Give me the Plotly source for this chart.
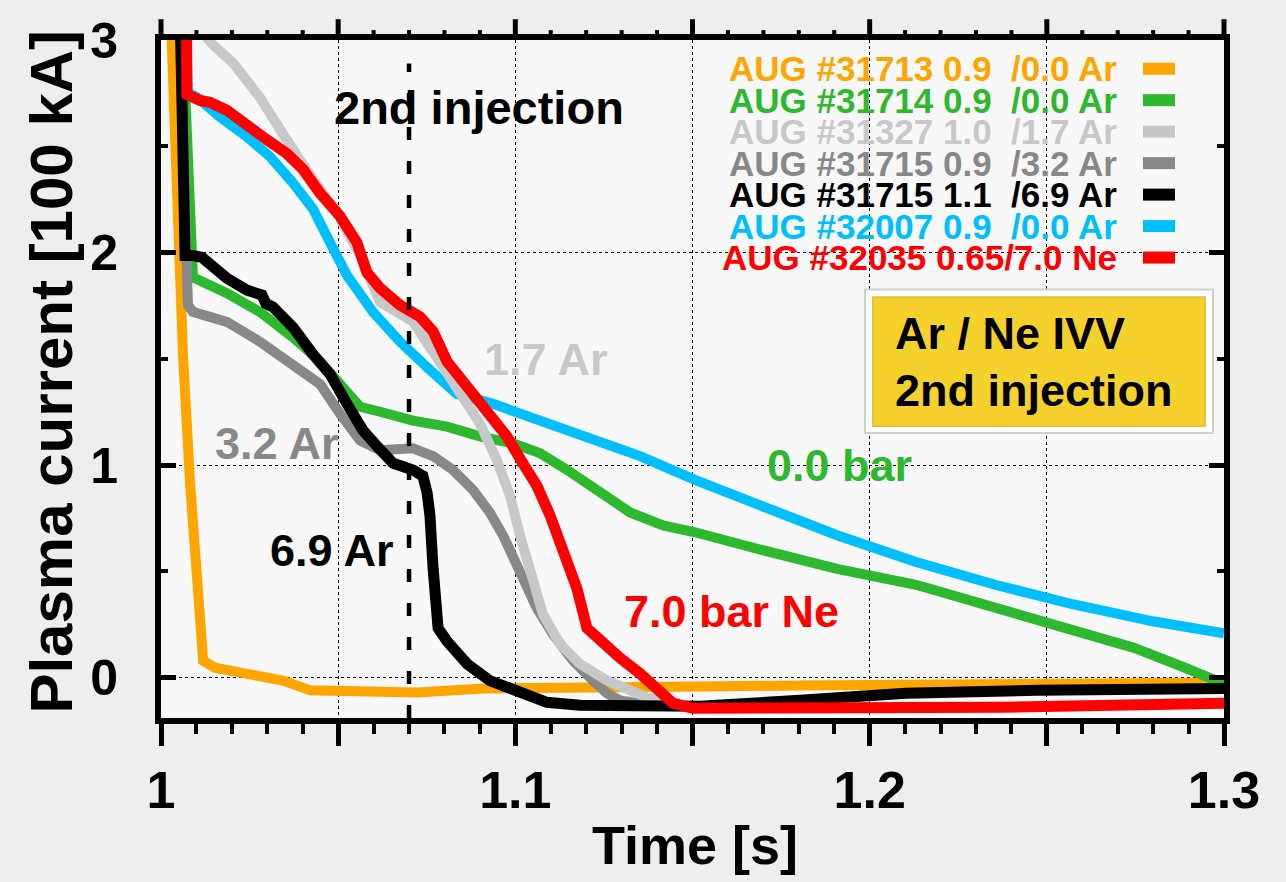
import plotly.graph_objects as go

# Discharge time traces: time [s] and plasma current [100 kA]
t_31713 = [1.0029, 1.0045, 1.0062, 1.0082, 1.0102, 1.0119, 1.0152, 1.0251, 1.0344, 1.0421,
           1.0533, 1.0723, 1.0909, 1.1098, 1.1287, 1.1521, 1.1803, 1.2086, 1.2368, 1.2650, 1.3000]
i_31713 = [3.05, 2.219, 1.521, 0.916, 0.358, 0.079, 0.047, 0.019, -0.014, -0.060,
           -0.060, -0.070, -0.051, -0.051, -0.051, -0.042, -0.037, -0.037, -0.033, -0.028, -0.023]

t_31714 = [1.0061, 1.0082, 1.0087, 1.0090, 1.0186, 1.0279, 1.0373, 1.0449, 1.0505, 1.0562,
           1.0618, 1.0655, 1.0711, 1.0807, 1.0900, 1.0993, 1.1070, 1.1146, 1.1230, 1.1324,
           1.1417, 1.1507, 1.1685, 1.1908, 1.2131, 1.2354, 1.2576, 1.2746, 1.2876, 1.2980, 1.3000]
i_31714 = [3.05, 2.219, 1.926, 1.884, 1.809, 1.721, 1.600, 1.488, 1.381, 1.274,
           1.251, 1.233, 1.209, 1.181, 1.135, 1.102, 1.056, 0.977, 0.884, 0.777,
           0.716, 0.684, 0.605, 0.512, 0.437, 0.326, 0.219, 0.140, 0.056, -0.014, -0.028]

t_31327 = [1.0110, 1.0147, 1.0203, 1.0279, 1.0344, 1.0401, 1.0429, 1.0505, 1.0562, 1.0618,
           1.0711, 1.0778, 1.0844, 1.0900, 1.0948, 1.0985, 1.1013, 1.1050, 1.1078, 1.1126,
           1.1182, 1.1259, 1.1315, 1.1371, 1.1465]
i_31327 = [3.05, 2.977, 2.893, 2.730, 2.558, 2.405, 2.344, 2.163, 1.986, 1.767,
           1.674, 1.507, 1.335, 1.195, 1.023, 0.856, 0.670, 0.437, 0.298, 0.158,
           0.065, -0.014, -0.060, -0.093, -0.121]

t_31715a = [1.0054, 1.0068, 1.0073, 1.0076, 1.0090, 1.0186, 1.0279, 1.0373, 1.0449, 1.0505,
            1.0562, 1.0618, 1.0711, 1.0768, 1.0824, 1.0880, 1.0928, 1.0965, 1.1013, 1.1061,
            1.1106, 1.1163, 1.1219, 1.1259, 1.1295, 1.1380, 1.1450]
i_31715a = [3.05, 2.219, 1.986, 1.753, 1.721, 1.674, 1.581, 1.474, 1.381, 1.242,
            1.116, 1.070, 1.079, 1.042, 0.977, 0.884, 0.777, 0.670, 0.484, 0.326,
            0.205, 0.079, -0.014, -0.074, -0.107, -0.130, -0.135]

t_31715b = [1.0055, 1.0062, 1.0068, 1.0090, 1.0116, 1.0186, 1.0243, 1.0285, 1.0296, 1.0316,
            1.0373, 1.0429, 1.0477, 1.0525, 1.0570, 1.0610, 1.0655, 1.0711, 1.0739, 1.0751,
            1.0759, 1.0768, 1.0782, 1.0807, 1.0864, 1.0928, 1.1013, 1.1089, 1.1182, 1.1380,
            1.1521, 1.1803, 1.2102, 1.2475, 1.3000]
i_31715b = [3.05, 2.219, 1.986, 1.986, 1.977, 1.879, 1.823, 1.800, 1.760, 1.744,
            1.647, 1.521, 1.428, 1.288, 1.163, 1.088, 1.009, 0.977, 0.949, 0.870,
            0.763, 0.512, 0.233, 0.172, 0.065, -0.014, -0.074, -0.116, -0.130, -0.140,
            -0.135, -0.107, -0.074, -0.060, -0.051]

t_32007 = [1.0071, 1.0076, 1.0102, 1.0167, 1.0243, 1.0308, 1.0373, 1.0429, 1.0477, 1.0525,
           1.0598, 1.0674, 1.0751, 1.0835, 1.0937, 1.1070, 1.1239, 1.1352, 1.1507, 1.1685,
           1.1908, 1.2131, 1.2354, 1.2576, 1.2799, 1.3000]
i_32007 = [3.05, 2.753, 2.730, 2.637, 2.544, 2.451, 2.326, 2.205, 2.047, 1.893,
           1.721, 1.581, 1.460, 1.335, 1.288, 1.209, 1.116, 1.042, 0.930, 0.809,
           0.670, 0.544, 0.437, 0.344, 0.265, 0.209]

t_32035 = [1.0072, 1.0073, 1.0110, 1.0138, 1.0186, 1.0243, 1.0299, 1.0356, 1.0401, 1.0449,
           1.0505, 1.0553, 1.0581, 1.0618, 1.0674, 1.0731, 1.0768, 1.0807, 1.0864, 1.0920,
           1.0976, 1.1021, 1.1061, 1.1098, 1.1126, 1.1174, 1.1202, 1.1239, 1.1295, 1.1352,
           1.1400, 1.1445, 1.1501, 1.1803, 1.2368, 1.3000]
i_32035 = [3.05, 2.744, 2.716, 2.707, 2.670, 2.591, 2.530, 2.465, 2.391, 2.279,
           2.172, 2.047, 1.907, 1.833, 1.753, 1.698, 1.628, 1.488, 1.367, 1.256,
           1.135, 1.009, 0.902, 0.763, 0.623, 0.419, 0.233, 0.172, 0.093, 0.019,
           -0.060, -0.121, -0.144, -0.144, -0.140, -0.121]

NB = "\u00a0"
legend_labels = [
    "AUG #31713 0.9" + NB * 2 + "/0.0 Ar",
    "AUG #31714 0.9" + NB * 2 + "/0.0 Ar",
    "AUG #31327 1.0" + NB * 2 + "/1.7 Ar",
    "AUG #31715 0.9" + NB * 2 + "/3.2 Ar",
    "AUG #31715 1.1" + NB * 2 + "/6.9 Ar",
    "AUG #32007 0.9" + NB * 2 + "/0.0 Ar",
    "AUG #32035 0.65/7.0 Ne",
]

injection_time = 1.07

# x ticks: labelled every 0.1 s, major every 0.05 s, minor every 0.01 s
x_range = [1.0, 1.3]
xt = [1.0, 1.05, 1.1, 1.15, 1.2, 1.25, 1.3]
xl = ["1", "", "1.1", "", "1.2", "", "1.3"]
x_minor_step = 0.01

ORANGE = "#FFA500"
GREEN = "#2DB82D"
LIGHTGREY = "#C8C8C8"
GREY = "#888888"
BLACK = "#000000"
SKY = "#00BFFF"
RED = "#FF0000"

FONT = "Liberation Sans"

# legend order (top to bottom)
legend_colors = [ORANGE, GREEN, LIGHTGREY, GREY, BLACK, SKY, RED]

# drawing order (bottom to top)
traces = [
    (t_31713, i_31713, ORANGE, 10),
    (t_32007, i_32007, SKY, 10),
    (t_31714, i_31714, GREEN, 10),
    (t_31715a, i_31715a, GREY, 10),
    (t_31327, i_31327, LIGHTGREY, 10),
    (t_31715b, i_31715b, BLACK, 11),
    (t_32035, i_32035, RED, 11),
]

fig = go.Figure()
for t, i, c, w in traces:
    fig.add_trace(go.Scatter(x=t, y=i, mode="lines",
                             line=dict(color=c, width=w), hoverinfo="skip"))

# plot-area geometry in pixels
L, R, T, B = 161, 1224, 33, 718
W, H = R - L, B - T


def px(x):
    return (x - L) / W


def py(y):
    return (B - y) / H


def time_to_paper(v):
    return (v - x_range[0]) / (x_range[1] - x_range[0])


shapes = []
annotations = []

# tick marks along the top edge (pointing outwards, above the frame)
n_minor = int(round((x_range[1] - x_range[0]) / x_minor_step))
for k in range(n_minor + 1):
    v = round(x_range[0] + k * x_minor_step, 4)
    is_major = any(abs(v - m) < 1e-9 for m in xt)
    xp = time_to_paper(v)
    shapes.append(dict(type="line", xref="paper", yref="paper",
                       x0=xp, x1=xp, y0=1.0, y1=1.0 + (21 if is_major else 10) / H,
                       line=dict(color="black", width=5 if is_major else 4), layer="above"))

# injection marker
shapes.append(dict(type="line", xref="x", yref="y", x0=injection_time, x1=injection_time,
                   y0=-0.19, y1=2.89, layer="above",
                   line=dict(color="black", width=4.5, dash="13px,21px")))

# key: coloured labels with a short line sample on the right
row0, dy = 62, 31.8
for k, (lab, col) in enumerate(zip(legend_labels, legend_colors)):
    yy = row0 + k * dy
    annotations.append(dict(xref="paper", yref="paper", x=px(1119), y=py(yy),
                            xanchor="right", yanchor="middle", text=lab, showarrow=False,
                            font=dict(family=FONT, size=35, color=col, weight="bold")))
    shapes.append(dict(type="line", xref="paper", yref="paper",
                       x0=px(1143), x1=px(1175), y0=py(yy), y1=py(yy),
                       line=dict(color=col, width=12)))

# info box
shapes.append(dict(type="rect", xref="paper", yref="paper",
                   x0=px(865), x1=px(1213), y0=py(430), y1=py(285),
                   fillcolor="white", line=dict(color="#cfcfcf", width=2), layer="above"))
shapes.append(dict(type="rect", xref="paper", yref="paper",
                   x0=px(873), x1=px(1205), y0=py(423), y1=py(293),
                   fillcolor="#F5D22B", line=dict(color="#E2C23A", width=2), layer="above"))
for txt, yy in [("Ar / Ne IVV", 330), ("2nd injection", 387)]:
    annotations.append(dict(xref="paper", yref="paper", x=px(893), y=py(yy),
                            xanchor="left", yanchor="middle", text=txt, showarrow=False,
                            font=dict(family=FONT, size=45, color="black", weight="bold")))

# in-plot labels
for txt, x, y, col, size in [
    ("2nd injection", 1.0898, 2.684, BLACK, 47),
    ("1.7 Ar", 1.1084, 1.498, LIGHTGREY, 45),
    ("3.2 Ar", 1.0325, 1.102, GREY, 45),
    ("0.0 bar", 1.1914, 1.000, GREEN, 45),
    ("6.9 Ar", 1.0480, 0.600, BLACK, 45),
    ("7.0 bar Ne", 1.1610, 0.312, RED, 45),
]:
    annotations.append(dict(xref="x", yref="y", x=x, y=y, xanchor="center", yanchor="middle",
                            text=txt, showarrow=False,
                            font=dict(family=FONT, size=size, color=col, weight="bold")))

# axis titles
annotations.append(dict(xref="paper", yref="paper", x=px(695), y=py(846),
                        xanchor="center", yanchor="middle", text="Time [s]", showarrow=False,
                        font=dict(family=FONT, size=54, color="black", weight="bold")))
annotations.append(dict(xref="paper", yref="paper", x=px(52), y=py(368),
                        xanchor="center", yanchor="middle", text="Plasma current [100 kA]",
                        textangle=-90, showarrow=False,
                        font=dict(family=FONT, size=60, color="black", weight="bold")))

fig.update_layout(
    width=1286, height=882,
    margin=dict(l=L, r=1286 - R, t=T, b=882 - B),
    paper_bgcolor="#eeeeee", plot_bgcolor="#f8f8f8",
    showlegend=False,
    shapes=shapes, annotations=annotations,
    xaxis=dict(range=x_range, tickmode="array", tickvals=xt, ticktext=xl,
               ticks="outside", ticklen=22, tickwidth=5, tickcolor="black",
               showline=True, linewidth=6, linecolor="black", mirror=True,
               showgrid=True, gridcolor="black", gridwidth=1, griddash="dot",
               zeroline=False, ticklabelstandoff=0,
               tickfont=dict(family=FONT, size=52, color="black", weight="bold"),
               minor=dict(tick0=x_range[0], dtick=x_minor_step, ticks="outside", ticklen=10,
                          tickwidth=4, tickcolor="black", showgrid=False)),
    yaxis=dict(range=[-0.19, 3.0], tickmode="array", tickvals=[0, 1, 2, 3],
               ticks="inside", ticklen=15, tickwidth=5, tickcolor="black",
               showline=True, linewidth=6, linecolor="black", mirror="ticks",
               showgrid=True, gridcolor="black", gridwidth=1, griddash="dot",
               zeroline=False, ticklabelstandoff=27,
               tickfont=dict(family=FONT, size=50, color="black", weight="bold"),
               minor=dict(tick0=0, dtick=0.5, ticks="inside", ticklen=7,
                          tickwidth=4, tickcolor="black", showgrid=False)),
)

fig.write_html("out.html")
